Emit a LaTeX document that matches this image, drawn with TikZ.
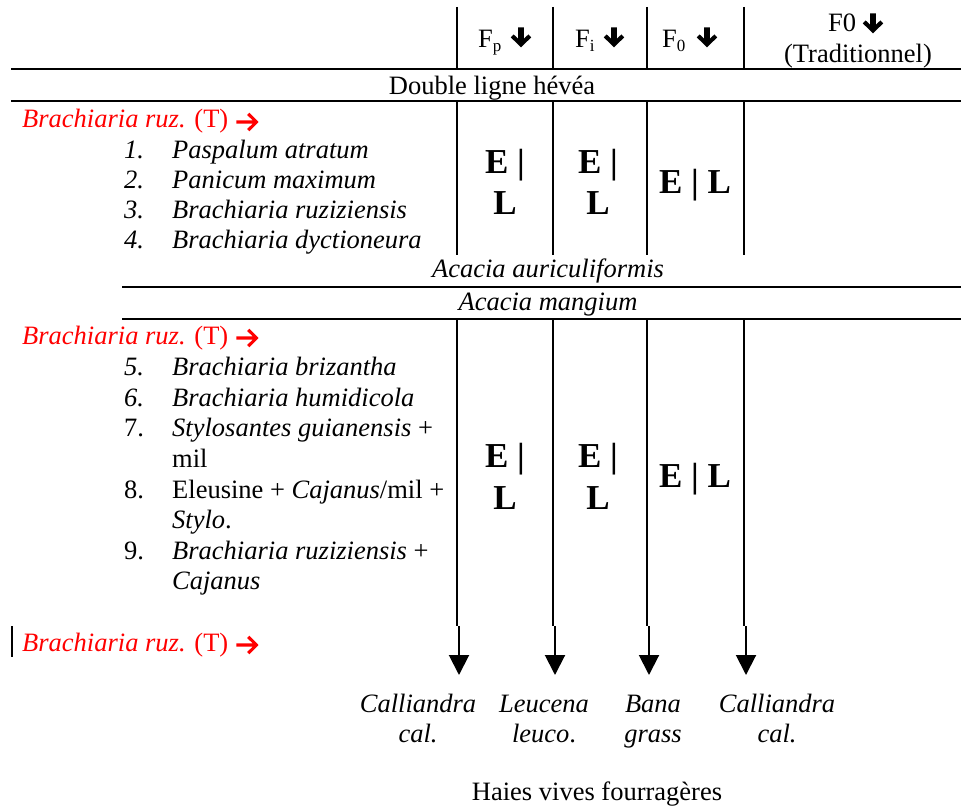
\documentclass[tikz,border=0pt]{standalone}
\usepackage{fontspec}
\setmainfont{Liberation Serif}
\usetikzlibrary{arrows.meta}
\definecolor{brred}{RGB}{255,0,0}
\tikzset{
  txt/.style={inner sep=0pt,font=\fontsize{26.5}{30}\selectfont},
  lt/.style={txt,anchor=base west},
  ct/.style={txt,anchor=base},
  big/.style={inner sep=0pt,anchor=base,font=\fontsize{35}{40}\selectfont\bfseries},
  rule/.style={line width=2pt},
  down/.style={line width=2pt,-{Triangle[width=20pt,length=20pt]}},
  darrow/.pic={\fill[black] (-2.8,-19.5) -- (2.8,-19.5) -- (2.8,-8.2) -- (7.4,-12.6) -- (10.2,-9.6) -- (0,0.3) -- (-10.2,-9.6) -- (-7.4,-12.6) -- (-2.8,-8.2) -- cycle;},
  rarrow/.pic={\fill[brred] (0,-7.6) -- (16.2,-7.6) -- (10.6,-13.1) -- (12.9,-15.3) -- (22,-6) -- (12.9,3.3) -- (10.6,1.1) -- (16.2,-4.4) -- (0,-4.4) -- cycle;},
}
\newcommand{\subs}[1]{\raisebox{-0.3ex}{\fontsize{17}{20}\selectfont #1}}
\begin{document}
\begin{tikzpicture}[x=1pt,y=-1pt]
\useasboundingbox (0,0) rectangle (961,810);
% header verticals
\foreach \n/\x in {a/457,b/553,c/647,d/744}{
  \coordinate (h\n t) at (\x,7);
  \coordinate (h\n b) at (\x,69);
  \draw[rule] (h\n t) -- (h\n b);
}
\node[lt] (hp) at (478,48) {F\subs{p}};
\node[lt] (hi) at (575,48) {F\subs{i}};
\node[lt] (h0) at (662,48) {F\subs{0}};
\node[lt] (ht) at (828,32) {F0};
\node[ct] (htr) at (858,63) {(Traditionnel)};
\pic at (521,47) {darrow};
\pic at (614,47) {darrow};
\pic at (707,47) {darrow};
\pic at (873,33) {darrow};
% horizontal rules
\coordinate (r1l) at (11,69); \coordinate (r1r) at (961,69);
\coordinate (r2l) at (11,101.5); \coordinate (r2r) at (961,101.5);
\coordinate (r3l) at (122,287); \coordinate (r3r) at (961,287);
\coordinate (r4l) at (122,319); \coordinate (r4r) at (961,319);
\draw[rule] (r1l) -- (r1r);
\draw[rule] (r2l) -- (r2r);
\draw[rule] (r3l) -- (r3r);
\draw[rule] (r4l) -- (r4r);
\node[ct] (dl) at (492,95) {Double ligne hévéa};
% block 1 verticals
\foreach \n/\x in {a/457,b/553,c/647,d/744}{
  \coordinate (u\n t) at (\x,101.5);
  \coordinate (u\n b) at (\x,255);
  \draw[rule] (u\n t) -- (u\n b);
}
\node[lt,text=brred] (br1) at (22,128) {\textit{Brachiaria ruz.} (T)};
\pic at ([xshift=8pt]br1.base east) {rarrow};
\node[lt] (n1) at (124,159) {\textit{1.}};
\node[lt] (i1) at (172,159) {\textit{Paspalum atratum}};
\node[lt] (n2) at (124,189) {\textit{2.}};
\node[lt] (i2) at (172,189) {\textit{Panicum maximum}};
\node[lt] (n3) at (124,219) {\textit{3.}};
\node[lt] (i3) at (172,219) {\textit{Brachiaria ruziziensis}};
\node[lt] (n4) at (124,249) {\textit{4.}};
\node[lt] (i4) at (172,249) {\textit{Brachiaria dyctioneura}};
\node[big] (e1a) at (505,174) {E |};
\node[big] (l1a) at (505,215) {L};
\node[big] (e1b) at (598,174) {E |};
\node[big] (l1b) at (598,215) {L};
\node[big] (el1c) at (695,194) {E | L};
\node[ct] (aa) at (548,278) {\textit{Acacia auriculiformis}};
\node[ct] (am) at (548,310) {\textit{Acacia mangium}};
% block 2
\node[lt,text=brred] (br2) at (22,344) {\textit{Brachiaria ruz.} (T)};
\pic at ([xshift=8pt]br2.base east) {rarrow};
\node[lt] (n5) at (124,375) {\textit{5.}};
\node[lt] (i5) at (172,375) {\textit{Brachiaria brizantha}};
\node[lt] (n6) at (124,406) {\textit{6.}};
\node[lt] (i6) at (172,406) {\textit{Brachiaria humidicola}};
\node[lt] (n7) at (124,436) {7.};
\node[lt] (i7) at (172,436) {\textit{Stylosantes guianensis} +};
\node[lt] (i7b) at (172,467) {mil};
\node[lt] (n8) at (124,498) {8.};
\node[lt] (i8) at (172,498) {Eleusine + \textit{Cajanus}/mil +};
\node[lt] (i8b) at (172,528) {\textit{Stylo}.};
\node[lt] (n9) at (124,559) {9.};
\node[lt] (i9) at (172,559) {\textit{Brachiaria ruziziensis} +};
\node[lt] (i9b) at (172,589) {\textit{Cajanus}};
\node[big] (e2a) at (505,467) {E |};
\node[big] (l2a) at (505,509) {L};
\node[big] (e2b) at (598,467) {E |};
\node[big] (l2b) at (598,509) {L};
\node[big] (el2c) at (695,487) {E | L};
% third red line with bar
\coordinate (bart) at (12,626); \coordinate (barb) at (12,657);
\draw[rule] (bart) -- (barb);
\node[lt,text=brred] (br3) at (22,651) {\textit{Brachiaria ruz.} (T)};
\pic at ([xshift=8pt]br3.base east) {rarrow};
% bottom labels
\node[ct] (c1a) at (418,712) {\textit{Calliandra}};
\node[ct] (c1b) at (418,742) {\textit{cal.}};
\node[ct] (c2a) at (544,712) {\textit{Leucena}};
\node[ct] (c2b) at (544,742) {\textit{leuco}.};
\node[ct] (c3a) at (653,712) {\textit{Bana}};
\node[ct] (c3b) at (653,742) {\textit{grass}};
\node[ct] (c4a) at (777,712) {\textit{Calliandra}};
\node[ct] (c4b) at (777,742) {\textit{cal.}};
\node[ct] (hv) at (597,800) {Haies vives fourragères};
% long verticals and arrows
\foreach \n/\x in {a/457,b/553,c/647,d/744}{
  \coordinate (v\n t) at (\x,319);
  \coordinate (v\n b) at (\x,626);
  \coordinate (w\n t) at (\x+2,626);
  \coordinate (w\n b) at (\x+2,675);
  \draw[rule] (v\n t) -- (v\n b);
  \draw[down] (w\n t) -- (w\n b);
}
\end{tikzpicture}
\end{document}
